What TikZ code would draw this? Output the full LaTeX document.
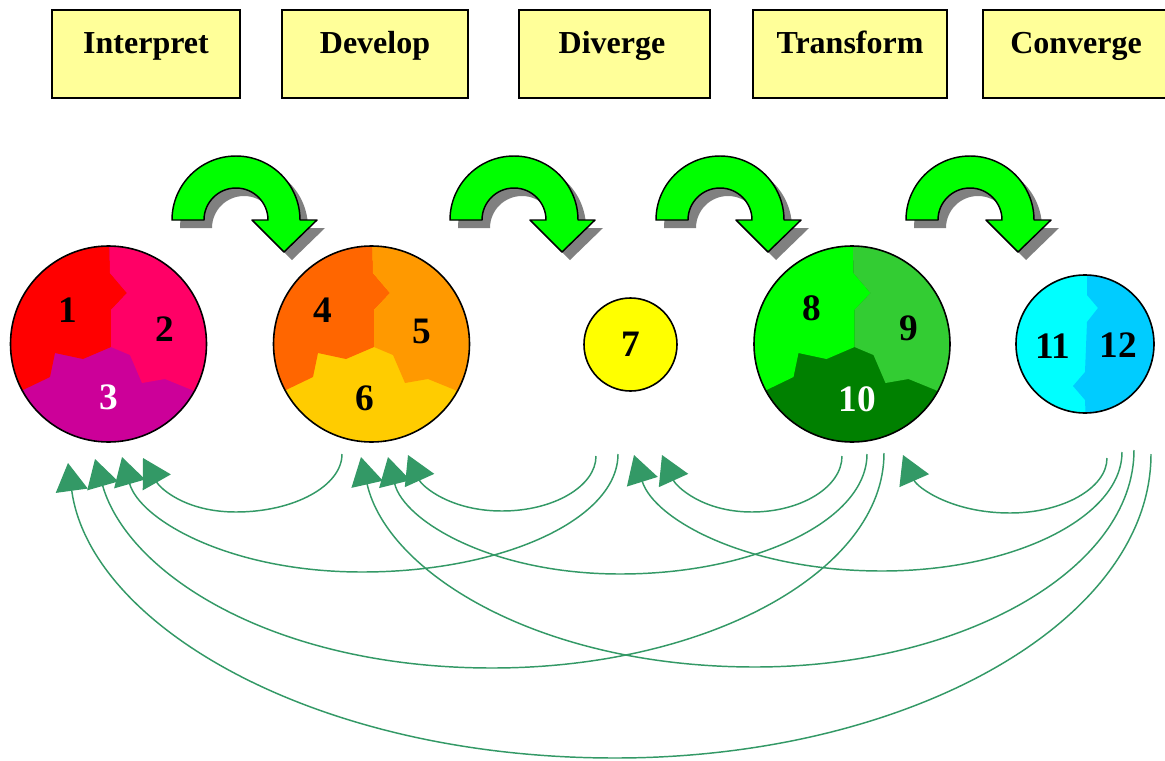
\documentclass[tikz,border=0pt]{standalone}
\usepackage{fontspec}
\setmainfont{Liberation Serif}
\usetikzlibrary{arrows.meta}
\definecolor{boxyellow}{HTML}{FFFF99}
\definecolor{cA}{HTML}{FF0000}
\definecolor{cB}{HTML}{FF0066}
\definecolor{cC}{HTML}{CC0099}
\definecolor{cD}{HTML}{FF6600}
\definecolor{cE}{HTML}{FF9900}
\definecolor{cF}{HTML}{FFCC00}
\definecolor{cG}{HTML}{FFFF00}
\definecolor{cH}{HTML}{00FF00}
\definecolor{cI}{HTML}{33CC33}
\definecolor{cJ}{HTML}{008000}
\definecolor{cK}{HTML}{00FFFF}
\definecolor{cL}{HTML}{00CCFF}
\definecolor{fbgreen}{HTML}{339966}
\definecolor{shadowgray}{HTML}{808080}
\newcommand\triregions[3]{%
  \fill[#3] (0,0) circle (98);
  \begin{scope}
    \clip (0,0) circle (98);
    \fill[#1] (-120,-120) -- (0.5,-120) -- (1.5,-71) -- (18.5,-51) -- (2.5,-34) -- (2.5,3)
      -- (-25.5,15) -- (-53.5,9) -- (-58.5,33) -- (-85.5,46) -- (-120,64) -- cycle;
    \fill[#2] (0.5,-120) -- (120,-120) -- (120,66) -- (83.5,46) -- (56.5,35) -- (33.5,39)
      -- (21.5,11) -- (2.5,3) -- (2.5,-34) -- (18.5,-51) -- (1.5,-71) -- cycle;
  \end{scope}}
\newcommand\bentarrow[1]{%
  \begin{scope}[shift={(#1,220)}]
    \fill[shadowgray,shift={(8,8)}] (-64,0) arc[start angle=180,end angle=360,radius=64]
      -- (81,0) -- (48,32) -- (16,0) -- (32,0) arc[start angle=0,end angle=-180,radius=32] -- cycle;
    \filldraw[bent] (-64,0) arc[start angle=180,end angle=360,radius=64]
      -- (81,0) -- (48,32) -- (16,0) -- (32,0) arc[start angle=0,end angle=-180,radius=32] -- cycle;
  \end{scope}}
\begin{document}
\begin{tikzpicture}[x=0.75pt,y=-0.75pt,
  box/.style={draw=black, line width=1.1pt, fill=boxyellow, inner sep=0pt, outer sep=0pt, minimum height=66pt},
  boxlabel/.style={font=\fontsize{24}{28}\selectfont\bfseries, anchor=base, inner sep=0pt},
  ring/.style={circle, draw=black, line width=1.2pt, inner sep=0pt, outer sep=0pt},
  num/.style={font=\fontsize{28}{32}\selectfont\bfseries, inner sep=0pt},
  fb/.style={draw=fbgreen, line width=1.1pt, -{Triangle[length=21pt,width=24pt]}},
  bent/.style={fill=cH, draw=black, line width=1.1pt, line join=round}]
\clip (0,0) rectangle (1165,761);
\fill[white] (0,0) rectangle (1165,761);

% stage boxes
\node[box, minimum width=141pt]   (bInterp) at (146,54) {};
\node[box, minimum width=139.5pt] (bDevel)  at (375,54) {};
\node[box, minimum width=143.25pt](bDiverg) at (614.5,54) {};
\node[box, minimum width=145.5pt] (bTrans)  at (850,54) {};
\node[box, minimum width=144pt]   (bConv)   at (1079,54) {};
\node[boxlabel] (lInterp) at (146,53) {Interpret};
\node[boxlabel] (lDevel)  at (375,53) {Develop};
\node[boxlabel] (lDiverg) at (612,53) {Diverge};
\node[boxlabel] (lTrans)  at (850,53) {Transform};
\node[boxlabel] (lConv)   at (1076,53) {Converge};

% bent arrows
\bentarrow{236}
\bentarrow{514}
\bentarrow{720}
\bentarrow{970}

% circle A
\begin{scope}[shift={(108.5,344)}]\triregions{cA}{cB}{cC}\end{scope}
\node[ring, minimum size=147pt] (A) at (108.5,344) {};
\node[num] (n1) at (68,310) {1};
\node[num] (n2) at (165,329) {2};
\node[num, text=white] (n3) at (109,397) {3};

% circle B
\begin{scope}[shift={(371.5,344)}]\triregions{cD}{cE}{cF}\end{scope}
\node[ring, minimum size=147pt] (B) at (371.5,344) {};
\node[num] (n4) at (323,310) {4};
\node[num] (n5) at (422,331) {5};
\node[num] (n6) at (365,398) {6};

% circle 7
\node[ring, fill=cG, minimum size=69.75pt] (G) at (630.5,344.5) {};
\node[num] (n7) at (631,344) {7};

% circle C
\begin{scope}[shift={(852,344)}]\triregions{cH}{cI}{cJ}\end{scope}
\node[ring, minimum size=147pt] (C) at (852,344) {};
\node[num] (n8) at (812,308) {8};
\node[num] (n9) at (909,328) {9};
\node[num, text=white] (n10) at (857,399) {10};

% circle D
\begin{scope}[shift={(1085,344)}]
  \fill[cK] (0,0) circle (69);
  \begin{scope}
    \clip (0,0) circle (69);
    \fill[cL] (2,-80) -- (80,-80) -- (80,80) -- (1,80) -- (0,56) -- (-12,42) -- (0,28)
      -- (2,-22) -- (13,-36) -- (2,-49) -- cycle;
  \end{scope}
\end{scope}
\node[ring, minimum size=103.5pt] (D) at (1085,344) {};
\node[num] (n11) at (1053,346) {11};
\node[num] (n12) at (1118,345) {12};

% feedback connector ends
\coordinate (sB)  at (342,454);
\coordinate (sG1) at (596,456);
\coordinate (sG2) at (618,454);
\coordinate (sC1) at (842,456);
\coordinate (sC2) at (867,454);
\coordinate (sC3) at (884,453);
\coordinate (sD1) at (1107,458);
\coordinate (sD2) at (1122,452);
\coordinate (sD3) at (1134,450);
\coordinate (sD4) at (1151,454);
\coordinate (tA1) at (68,463);
\coordinate (tA2) at (95,459);
\coordinate (tA3) at (122,457);
\coordinate (tA4) at (143,458);
\coordinate (tB1) at (361,457);
\coordinate (tB2) at (388,457);
\coordinate (tB3) at (408,455);
\coordinate (tG1) at (634,455);
\coordinate (tG2) at (662,455);
\coordinate (tC1) at (903,455);

\draw[fb] (sB)  .. controls (342,486) and (294,512) .. (236,512) .. controls (185,512) and (160,488) .. (tA4);
\draw[fb] (sG1) .. controls (596,486) and (554,511) .. (502,511) .. controls (450,511) and (422,486) .. (tB3);
\draw[fb] (sG2) .. controls (618,519) and (503,572) .. (362,572) .. controls (230,572) and (140,520) .. (tA3);
\draw[fb] (sC1) .. controls (842,487) and (801,512) .. (752,512) .. controls (702,512) and (676,486) .. (tG2);
\draw[fb] (sC2) .. controls (867,520) and (756,574) .. (620,574) .. controls (492,574) and (404,521) .. (tB2);
\draw[fb] (sC3) .. controls (884,571) and (708,668) .. (492,668) .. controls (274,668) and (128,574) .. (tA2);
\draw[fb] (sD1) .. controls (1107,488) and (1063,513) .. (1010,513) .. controls (951,513) and (917,487) .. (tC1);
\draw[fb] (sD2) .. controls (1122,517) and (1014,571) .. (882,571) .. controls (746,571) and (654,519) .. (tG1);
\draw[fb] (sD3) .. controls (1134,569) and (963,667) .. (755,667) .. controls (538,667) and (387,572) .. (tB1);
\draw[fb] (sD4) .. controls (1151,621) and (910,758) .. (615,758) .. controls (314,758) and (90,625) .. (tA1);
\end{tikzpicture}
\end{document}
